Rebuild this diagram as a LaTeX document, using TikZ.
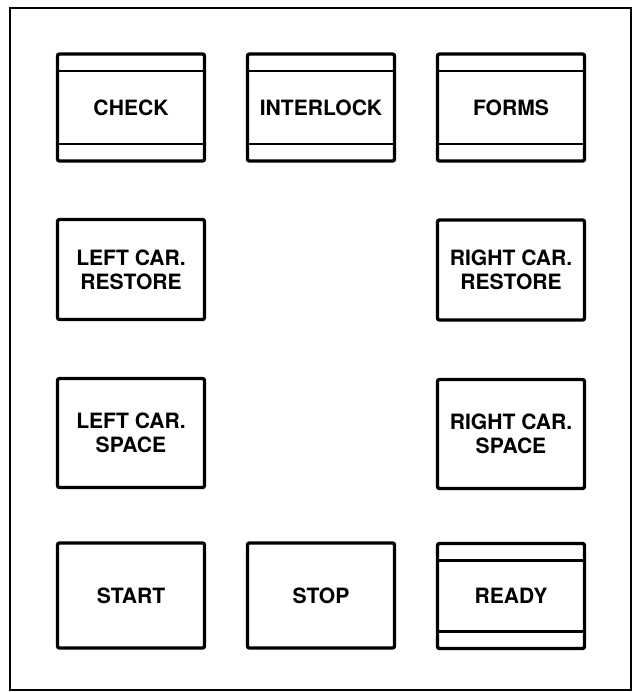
\documentclass[tikz,border=0pt]{standalone}
\usepackage{fontspec}
\setmainfont{TeX Gyre Heros}

\begin{document}
\begin{tikzpicture}[x=0.3mm, y=-0.3mm,
  key/.style={draw, line width=1mm, rounded corners=0.6mm, minimum width=44.1mm,
              inner sep=0pt, align=center, font=\bfseries\fontsize{18}{20.5}\selectfont},
  lamp/.style={key, path picture={
      \draw[line width=0.75mm]
        ([yshift=-5.1mm]path picture bounding box.north west) -- ([yshift=-5.1mm]path picture bounding box.north east)
        ([yshift=5.1mm]path picture bounding box.south west) -- ([yshift=5.1mm]path picture bounding box.south east);}}
]
  \useasboundingbox (0,0) rectangle (634,692);
  \draw[line width=0.6mm] (10,8) rectangle (631,690);

  % top row: lamps
  \node[lamp, minimum height=32.1mm] (check) at (131,107.5) {CHECK};
  \node[lamp, minimum height=32.1mm] (interlock) at (321,107.5) {INTERLOCK};
  \node[lamp, minimum height=32.1mm] (forms) at (511,107.5) {FORMS};

  % carriage keys
  \node[key, minimum height=30mm] (lrestore) at (131,269.5) {LEFT CAR.\\RESTORE};
  \node[key, minimum height=30mm] (rrestore) at (511,270) {RIGHT CAR.\\RESTORE};
  \node[key, minimum height=32.7mm] (lspace) at (131,433) {LEFT CAR.\\SPACE};
  \node[key, minimum height=32.7mm] (rspace) at (511,434) {RIGHT CAR.\\SPACE};

  % bottom row
  \node[key, minimum height=31.5mm] (start) at (131,595.5) {START};
  \node[key, minimum height=31.5mm] (stop) at (321,595.5) {STOP};
  \node[lamp, minimum height=31.5mm] (ready) at (511,596) {READY};
\end{tikzpicture}
\end{document}
